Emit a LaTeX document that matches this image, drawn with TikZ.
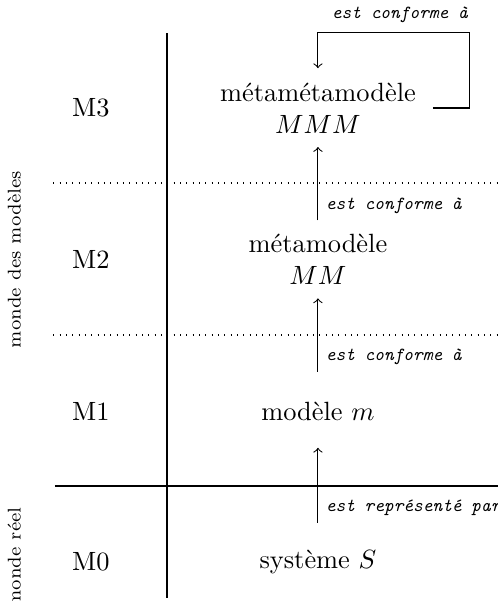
\documentclass[tikz,border=0pt]{standalone}
\usepackage{tikz}
\usetikzlibrary{calc}

\begin{document}
\begin{tikzpicture}[
		niveau/.style={anchor=center},
		modele/.style={align=center},
		rel/.style={font=\scriptsize\ttfamily\itshape, inner xsep=2.8pt},
		monde/.style={rotate=90, font=\scriptsize},
		fleche/.style={->}
	]
			%%%%% START %%%%%
			
			\useasboundingbox (0, 0) rectangle (6.631, 8.003);
			
			\draw (2.224, 0.04) -- (2.224, 7.563);
			\draw (0.73, 1.531) -- (6.631, 1.531);
			\draw[dotted] (0.71, 3.542) -- (6.631, 3.542);
			\draw[dotted] (0.71, 5.566) -- (6.631, 5.566);
			
			\node[monde] (reel) at (0.19, 0.58) {monde réel};
			\node[monde] (modeles) at (0.19, 4.547) {monde des modèles};
			
			\node[niveau] (m0) at (1.21, 0.52) {M0};
			\node[niveau] (m1) at (1.21, 2.53) {M1};
			\node[niveau] (m2) at (1.21, 4.55) {M2};
			\node[niveau] (m3) at (1.21, 6.565) {M3};
			
			\node (sys) at (4.234, 0.52) {système $S$};
			\node (mod) at (4.234, 2.53) {modèle $m$};
			\node[modele] (mm) at (4.234, 4.55) {métamodèle\\$MM$};
			\node[modele] (mmm) at (4.234, 6.565) {métamétamodèle\\$MMM$};
			
			\draw[fleche] ($(sys)+(0, 0.52)$) -- node[rel, pos=0.2, right] {est représenté par} ($(mod)+(0, -0.49)$);
			\draw[fleche] ($(mod)+(0, 0.52)$) -- node[rel, pos=0.2, right] {est conforme à} ($(mm)+(0, -0.52)$);
			\draw[fleche] ($(mm)+(0, 0.52)$) -- node[rel, pos=0.2, right] {est conforme à} ($(mmm)+(0, -0.52)$);
			
			\draw[fleche] ($(mmm)+(1.53, 0)$) -- ++(0.49, 0) |- node[rel, pos=0.73, above] {est conforme à} ($(mmm)+(0, 1.01)$) -- ($(mmm)+(0, 0.53)$);
			
			%%%%% END %%%%%
		\end{tikzpicture}
\end{document}
